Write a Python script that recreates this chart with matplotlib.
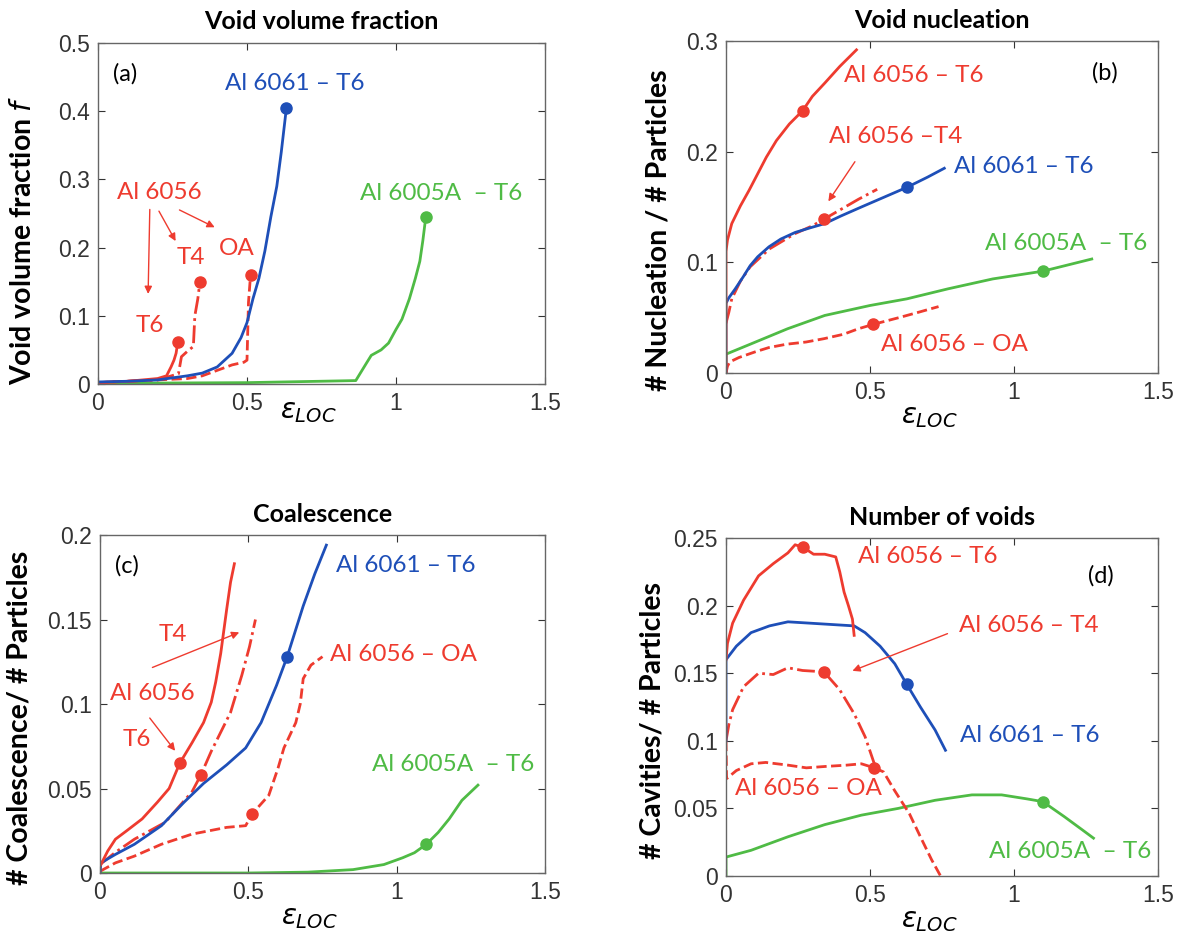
## four panel damage plot: void fraction, nucleation, coalescence, number of voids
import matplotlib
matplotlib.use('Agg')
import matplotlib.pyplot as plt

RED = '#ee3b2f'
BLUE = '#1e4fb8'
GREEN = '#4fbb45'

## (a) void volume fraction
a_6061_x = [0, 0.1, 0.2, 0.3, 0.35, 0.4, 0.45, 0.48, 0.5, 0.52, 0.54, 0.56, 0.58, 0.6, 0.615, 0.632]
a_6061_y = [0.003, 0.004, 0.006, 0.012, 0.016, 0.025, 0.045, 0.068, 0.09, 0.125, 0.155, 0.195, 0.245, 0.29, 0.34, 0.404]
a_6005_x = [0, 0.5, 0.865, 0.9, 0.917, 0.95, 0.975, 1.0, 1.02, 1.045, 1.065, 1.08, 1.09, 1.1]
a_6005_y = [0.001, 0.002, 0.005, 0.03, 0.042, 0.05, 0.06, 0.08, 0.095, 0.125, 0.155, 0.18, 0.21, 0.245]
a_t6_x = [0, 0.1, 0.2, 0.23, 0.245, 0.255, 0.262, 0.268]
a_t6_y = [0.002, 0.004, 0.008, 0.012, 0.025, 0.035, 0.045, 0.062]
a_t4_x = [0, 0.2, 0.27, 0.28, 0.3, 0.32, 0.325, 0.335, 0.342]
a_t4_y = [0.002, 0.006, 0.015, 0.04, 0.048, 0.055, 0.1, 0.125, 0.15]
a_oa_x = [0, 0.3, 0.35, 0.4, 0.45, 0.49, 0.5, 0.505, 0.512]
a_oa_y = [0.002, 0.008, 0.012, 0.02, 0.028, 0.032, 0.035, 0.12, 0.16]

## (b) void nucleation
b_t6_x = [0, 0, 0.005, 0.02, 0.05, 0.08, 0.11, 0.14, 0.175, 0.22, 0.266, 0.3, 0.343, 0.395, 0.453]
b_t6_y = [0, 0.11, 0.12, 0.135, 0.151, 0.165, 0.18, 0.195, 0.21, 0.225, 0.237, 0.25, 0.262, 0.277, 0.292]
b_6061_x = [0, 0, 0.01, 0.032, 0.06, 0.084, 0.11, 0.149, 0.19, 0.24, 0.29, 0.343, 0.4, 0.47, 0.55, 0.63, 0.7, 0.758]
b_6061_y = [0, 0.063, 0.068, 0.076, 0.087, 0.097, 0.105, 0.114, 0.121, 0.127, 0.131, 0.135, 0.142, 0.15, 0.159, 0.168, 0.177, 0.185]
b_t4_x = [0, 0.01, 0.02, 0.05, 0.084, 0.15, 0.24, 0.3, 0.34, 0.4, 0.46, 0.525]
b_t4_y = [0.045, 0.055, 0.067, 0.083, 0.096, 0.112, 0.126, 0.133, 0.139, 0.148, 0.157, 0.166]
b_6005_x = [0, 0, 0.084, 0.214, 0.343, 0.5, 0.628, 0.77, 0.926, 1.1, 1.27]
b_6005_y = [0, 0.017, 0.026, 0.04, 0.052, 0.061, 0.067, 0.076, 0.085, 0.092, 0.103]
b_oa_x = [0, 0.005, 0.013, 0.045, 0.1, 0.149, 0.21, 0.278, 0.34, 0.408, 0.46, 0.512, 0.6, 0.67, 0.738]
b_oa_y = [0, 0.006, 0.01, 0.014, 0.019, 0.023, 0.026, 0.028, 0.031, 0.035, 0.04, 0.044, 0.05, 0.055, 0.06]

## (c) coalescence
c_t6_x = [0, 0.026, 0.052, 0.09, 0.142, 0.194, 0.233, 0.269, 0.31, 0.349, 0.375, 0.39, 0.407, 0.427, 0.44, 0.453]
c_t6_y = [0.004, 0.013, 0.02, 0.025, 0.032, 0.042, 0.05, 0.065, 0.077, 0.089, 0.101, 0.113, 0.13, 0.156, 0.172, 0.183]
c_6061_x = [0, 0.003, 0.052, 0.116, 0.207, 0.284, 0.349, 0.427, 0.491, 0.543, 0.595, 0.631, 0.685, 0.724, 0.763]
c_6061_y = [0, 0.006, 0.011, 0.017, 0.028, 0.042, 0.053, 0.064, 0.074, 0.089, 0.111, 0.128, 0.158, 0.177, 0.194]
c_t4_x = [0, 0.05, 0.116, 0.22, 0.31, 0.34, 0.375, 0.44, 0.478, 0.504, 0.524]
c_t4_y = [0.005, 0.012, 0.02, 0.03, 0.048, 0.058, 0.072, 0.095, 0.117, 0.134, 0.15]
c_oa_x = [0, 0.052, 0.116, 0.207, 0.31, 0.427, 0.491, 0.513, 0.569, 0.6, 0.62, 0.66, 0.675, 0.685, 0.711, 0.75]
c_oa_y = [0.001, 0.006, 0.01, 0.017, 0.023, 0.027, 0.028, 0.035, 0.046, 0.062, 0.074, 0.089, 0.1, 0.115, 0.123, 0.128]
c_6005_x = [0, 0.5, 0.7, 0.853, 0.957, 1.02, 1.06, 1.1, 1.14, 1.177, 1.22, 1.274]
c_6005_y = [0, 0, 0.0005, 0.002, 0.005, 0.009, 0.012, 0.017, 0.024, 0.032, 0.043, 0.052]

## (d) number of voids
d_t6_x = [0, 0.005, 0.023, 0.061, 0.113, 0.164, 0.215, 0.24, 0.269, 0.304, 0.343, 0.381, 0.395, 0.41, 0.425, 0.439, 0.445]
d_t6_y = [0.16, 0.172, 0.187, 0.204, 0.222, 0.231, 0.239, 0.245, 0.243, 0.238, 0.238, 0.236, 0.225, 0.21, 0.2, 0.19, 0.178]
d_6061_x = [0, 0, 0.036, 0.087, 0.151, 0.215, 0.292, 0.368, 0.445, 0.483, 0.535, 0.586, 0.627, 0.675, 0.726, 0.762]
d_6061_y = [0.1, 0.16, 0.17, 0.18, 0.185, 0.188, 0.187, 0.186, 0.185, 0.18, 0.17, 0.157, 0.142, 0.125, 0.108, 0.093]
d_t4_x = [0, 0.01, 0.023, 0.061, 0.113, 0.164, 0.215, 0.266, 0.34, 0.394, 0.445, 0.483, 0.515]
d_t4_y = [0.1, 0.112, 0.123, 0.14, 0.15, 0.149, 0.154, 0.152, 0.151, 0.138, 0.12, 0.103, 0.083]
d_oa_x = [0, 0.002, 0.036, 0.087, 0.138, 0.215, 0.279, 0.343, 0.419, 0.47, 0.515, 0.547, 0.586, 0.637, 0.675, 0.714, 0.745]
d_oa_y = [0.1, 0.072, 0.078, 0.083, 0.084, 0.082, 0.08, 0.081, 0.082, 0.083, 0.08, 0.077, 0.063, 0.046, 0.029, 0.012, 0.0]
d_6005_x = [0, 0, 0.087, 0.215, 0.343, 0.47, 0.598, 0.726, 0.854, 0.957, 1.046, 1.1, 1.174, 1.238, 1.276]
d_6005_y = [0, 0.014, 0.019, 0.029, 0.038, 0.045, 0.05, 0.056, 0.06, 0.06, 0.057, 0.055, 0.044, 0.034, 0.028]

## failure points (filled dots)
a_dots = [(0.632, 0.404, BLUE), (1.1, 0.245, GREEN), (0.268, 0.062, RED), (0.342, 0.15, RED), (0.512, 0.16, RED)]
b_dots = [(0.266, 0.237, RED), (0.63, 0.168, BLUE), (0.34, 0.139, RED), (1.1, 0.092, GREEN), (0.512, 0.044, RED)]
c_dots = [(0.269, 0.065, RED), (0.34, 0.058, RED), (0.631, 0.128, BLUE), (0.513, 0.035, RED), (1.1, 0.017, GREEN)]
d_dots = [(0.269, 0.243, RED), (0.34, 0.151, RED), (0.627, 0.142, BLUE), (0.515, 0.08, RED), (1.1, 0.055, GREEN)]

TICKFONT = 'Liberation Sans'
TXTFONT = 'Lato'
plt.rcParams['mathtext.fontset'] = 'dejavusans'

fig = plt.figure(figsize=(11.87, 9.38), dpi=100)
W, H = 1187.0, 938.0


def make_ax(l, r, t, b):
    return fig.add_axes([l / W, 1 - b / H, (r - l) / W, (b - t) / H])


def style(ax, ymax, yticks, ylabels, title, ylab, ylab_x, ylab_y, xlab_y):
    ax.set_xlim(0, 1.5)
    ax.set_ylim(0, ymax)
    ax.set_xticks([0, 0.5, 1, 1.5])
    ax.set_xticklabels(['0', '0.5', '1', '1.5'])
    ax.set_yticks(yticks)
    ax.set_yticklabels(ylabels)
    ax.tick_params(direction='in', top=True, right=True, length=5, width=0.8,
                   colors='#333333', labelsize=16.5, pad=6)
    for lbl in ax.get_xticklabels() + ax.get_yticklabels():
        lbl.set_family(TICKFONT)
    for s in ax.spines.values():
        s.set_color('#666666')
        s.set_linewidth(1.0)
    ax.text(0.5, 1.062, title, transform=ax.transAxes, ha='center', va='center',
            fontsize=18, fontweight='bold', family=TXTFONT)
    ax.set_ylabel(ylab, fontsize=20.5, fontweight='bold', family=TXTFONT, va='center')
    ax.yaxis.set_label_coords(ylab_x, ylab_y)
    ax.set_xlabel(r'$\varepsilon_{LOC}$', fontsize=20, va='center')
    ax.xaxis.set_label_coords(0.47, xlab_y)


def dots(ax, pts):
    for x, y, c in pts:
        ax.plot(x, y, 'o', color=c, markersize=8, zorder=5)


def note(ax, x, y, s, c, ha='left', size=17.5):
    ax.text(x, y, s, color=c, fontsize=size, family=TXTFONT, ha=ha, va='center')


def arrow(ax, x0, y0, x1, y1):
    ax.annotate('', xy=(x1, y1), xytext=(x0, y0),
                arrowprops=dict(arrowstyle='-|>', color=RED, lw=1.0, mutation_scale=11))


LW = 2.0

# ---- (a)
ax = make_ax(98, 545, 43, 384)
ax.plot(a_6005_x, a_6005_y, '-', color=GREEN, lw=LW)
ax.plot(a_oa_x, a_oa_y, '--', color=RED, lw=LW)
ax.plot(a_t4_x, a_t4_y, '-.', color=RED, lw=LW)
ax.plot(a_t6_x, a_t6_y, '-', color=RED, lw=LW)
ax.plot(a_6061_x, a_6061_y, '-', color=BLUE, lw=LW)
dots(ax, a_dots)
style(ax, 0.5, [0, 0.1, 0.2, 0.3, 0.4, 0.5], ['0', '0.1', '0.2', '0.3', '0.4', '0.5'],
      'Void volume fraction', r'Void volume fraction $\mathit{f}$', -0.168, 0.42, -0.078)
note(ax, 0.09, 0.455, '(a)', 'black', ha='center', size=17)
note(ax, 0.66, 0.44, 'Al 6061 – T6', BLUE, ha='center')
note(ax, 1.15, 0.28, 'Al 6005A  – T6', GREEN, ha='center')
note(ax, 0.207, 0.281, 'Al 6056', RED, ha='center')
note(ax, 0.31, 0.186, 'T4', RED, ha='center')
note(ax, 0.465, 0.199, 'OA', RED, ha='center')
note(ax, 0.174, 0.086, 'T6', RED, ha='center')
arrow(ax, 0.174, 0.26, 0.168, 0.128)
arrow(ax, 0.2, 0.257, 0.265, 0.206)
arrow(ax, 0.265, 0.257, 0.4, 0.228)

# ---- (b)
ax = make_ax(726, 1158, 41, 373)
ax.plot(b_6005_x, b_6005_y, '-', color=GREEN, lw=LW)
ax.plot(b_oa_x, b_oa_y, '--', color=RED, lw=LW)
ax.plot(b_t4_x, b_t4_y, '-.', color=RED, lw=LW)
ax.plot(b_6061_x, b_6061_y, '-', color=BLUE, lw=LW)
ax.plot(b_t6_x, b_t6_y, '-', color=RED, lw=LW)
dots(ax, b_dots)
style(ax, 0.3, [0, 0.1, 0.2, 0.3], ['0', '0.1', '0.2', '0.3'],
      'Void nucleation', '# Nucleation / # Particles', -0.157, 0.43, -0.13)
note(ax, 0.408, 0.269, 'Al 6056 – T6', RED)
note(ax, 1.315, 0.271, '(b)', 'black', ha='center', size=17)
note(ax, 0.356, 0.214, 'Al 6056 –T4', RED)
arrow(ax, 0.453, 0.193, 0.35, 0.153)
note(ax, 0.79, 0.187, 'Al 6061 – T6', BLUE)
note(ax, 0.9, 0.117, 'Al 6005A  – T6', GREEN)
note(ax, 0.538, 0.026, 'Al 6056 – OA', RED)

# ---- (c)
ax = make_ax(100, 545, 535, 873)
ax.plot(c_6005_x, c_6005_y, '-', color=GREEN, lw=LW)
ax.plot(c_oa_x, c_oa_y, '--', color=RED, lw=LW)
ax.plot(c_t4_x, c_t4_y, '-.', color=RED, lw=LW)
ax.plot(c_6061_x, c_6061_y, '-', color=BLUE, lw=LW)
ax.plot(c_t6_x, c_t6_y, '-', color=RED, lw=LW)
dots(ax, c_dots)
style(ax, 0.2, [0, 0.05, 0.1, 0.15, 0.2], ['0', '0.05', '0.1', '0.15', '0.2'],
      'Coalescence', '# Coalescence/ # Particles', -0.182, 0.46, -0.13)
note(ax, 0.09, 0.182, '(c)', 'black', ha='center', size=17)
note(ax, 0.795, 0.182, 'Al 6061 – T6', BLUE)
note(ax, 0.246, 0.141, 'T4', RED, ha='center')
arrow(ax, 0.168, 0.121, 0.478, 0.143)
note(ax, 0.175, 0.106, 'Al 6056', RED, ha='center')
note(ax, 0.123, 0.079, 'T6', RED, ha='center')
arrow(ax, 0.162, 0.093, 0.259, 0.071)
note(ax, 0.776, 0.129, 'Al 6056 – OA', RED)
note(ax, 0.918, 0.064, 'Al 6005A  – T6', GREEN)

# ---- (d)
ax = make_ax(726, 1158, 538, 876)
ax.plot(d_6005_x, d_6005_y, '-', color=GREEN, lw=LW)
ax.plot(d_oa_x, d_oa_y, '--', color=RED, lw=LW)
ax.plot(d_t4_x, d_t4_y, '-.', color=RED, lw=LW)
ax.plot(d_6061_x, d_6061_y, '-', color=BLUE, lw=LW)
ax.plot(d_t6_x, d_t6_y, '-', color=RED, lw=LW)
dots(ax, d_dots)
style(ax, 0.25, [0, 0.05, 0.1, 0.15, 0.2, 0.25], ['0', '0.05', '0.1', '0.15', '0.2', '0.25'],
      'Number of voids', '# Cavities/ # Particles', -0.171, 0.46, -0.13)
note(ax, 0.458, 0.236, 'Al 6056 – T6', RED)
note(ax, 1.302, 0.222, '(d)', 'black', ha='center', size=17)
note(ax, 0.81, 0.185, 'Al 6056 – T4', RED)
arrow(ax, 0.778, 0.18, 0.43, 0.151)
note(ax, 0.813, 0.104, 'Al 6061 – T6', BLUE)
note(ax, 0.03, 0.065, 'Al 6056 – OA', RED)
note(ax, 0.912, 0.018, 'Al 6005A  – T6', GREEN)

fig.savefig('out.png', dpi=100)
